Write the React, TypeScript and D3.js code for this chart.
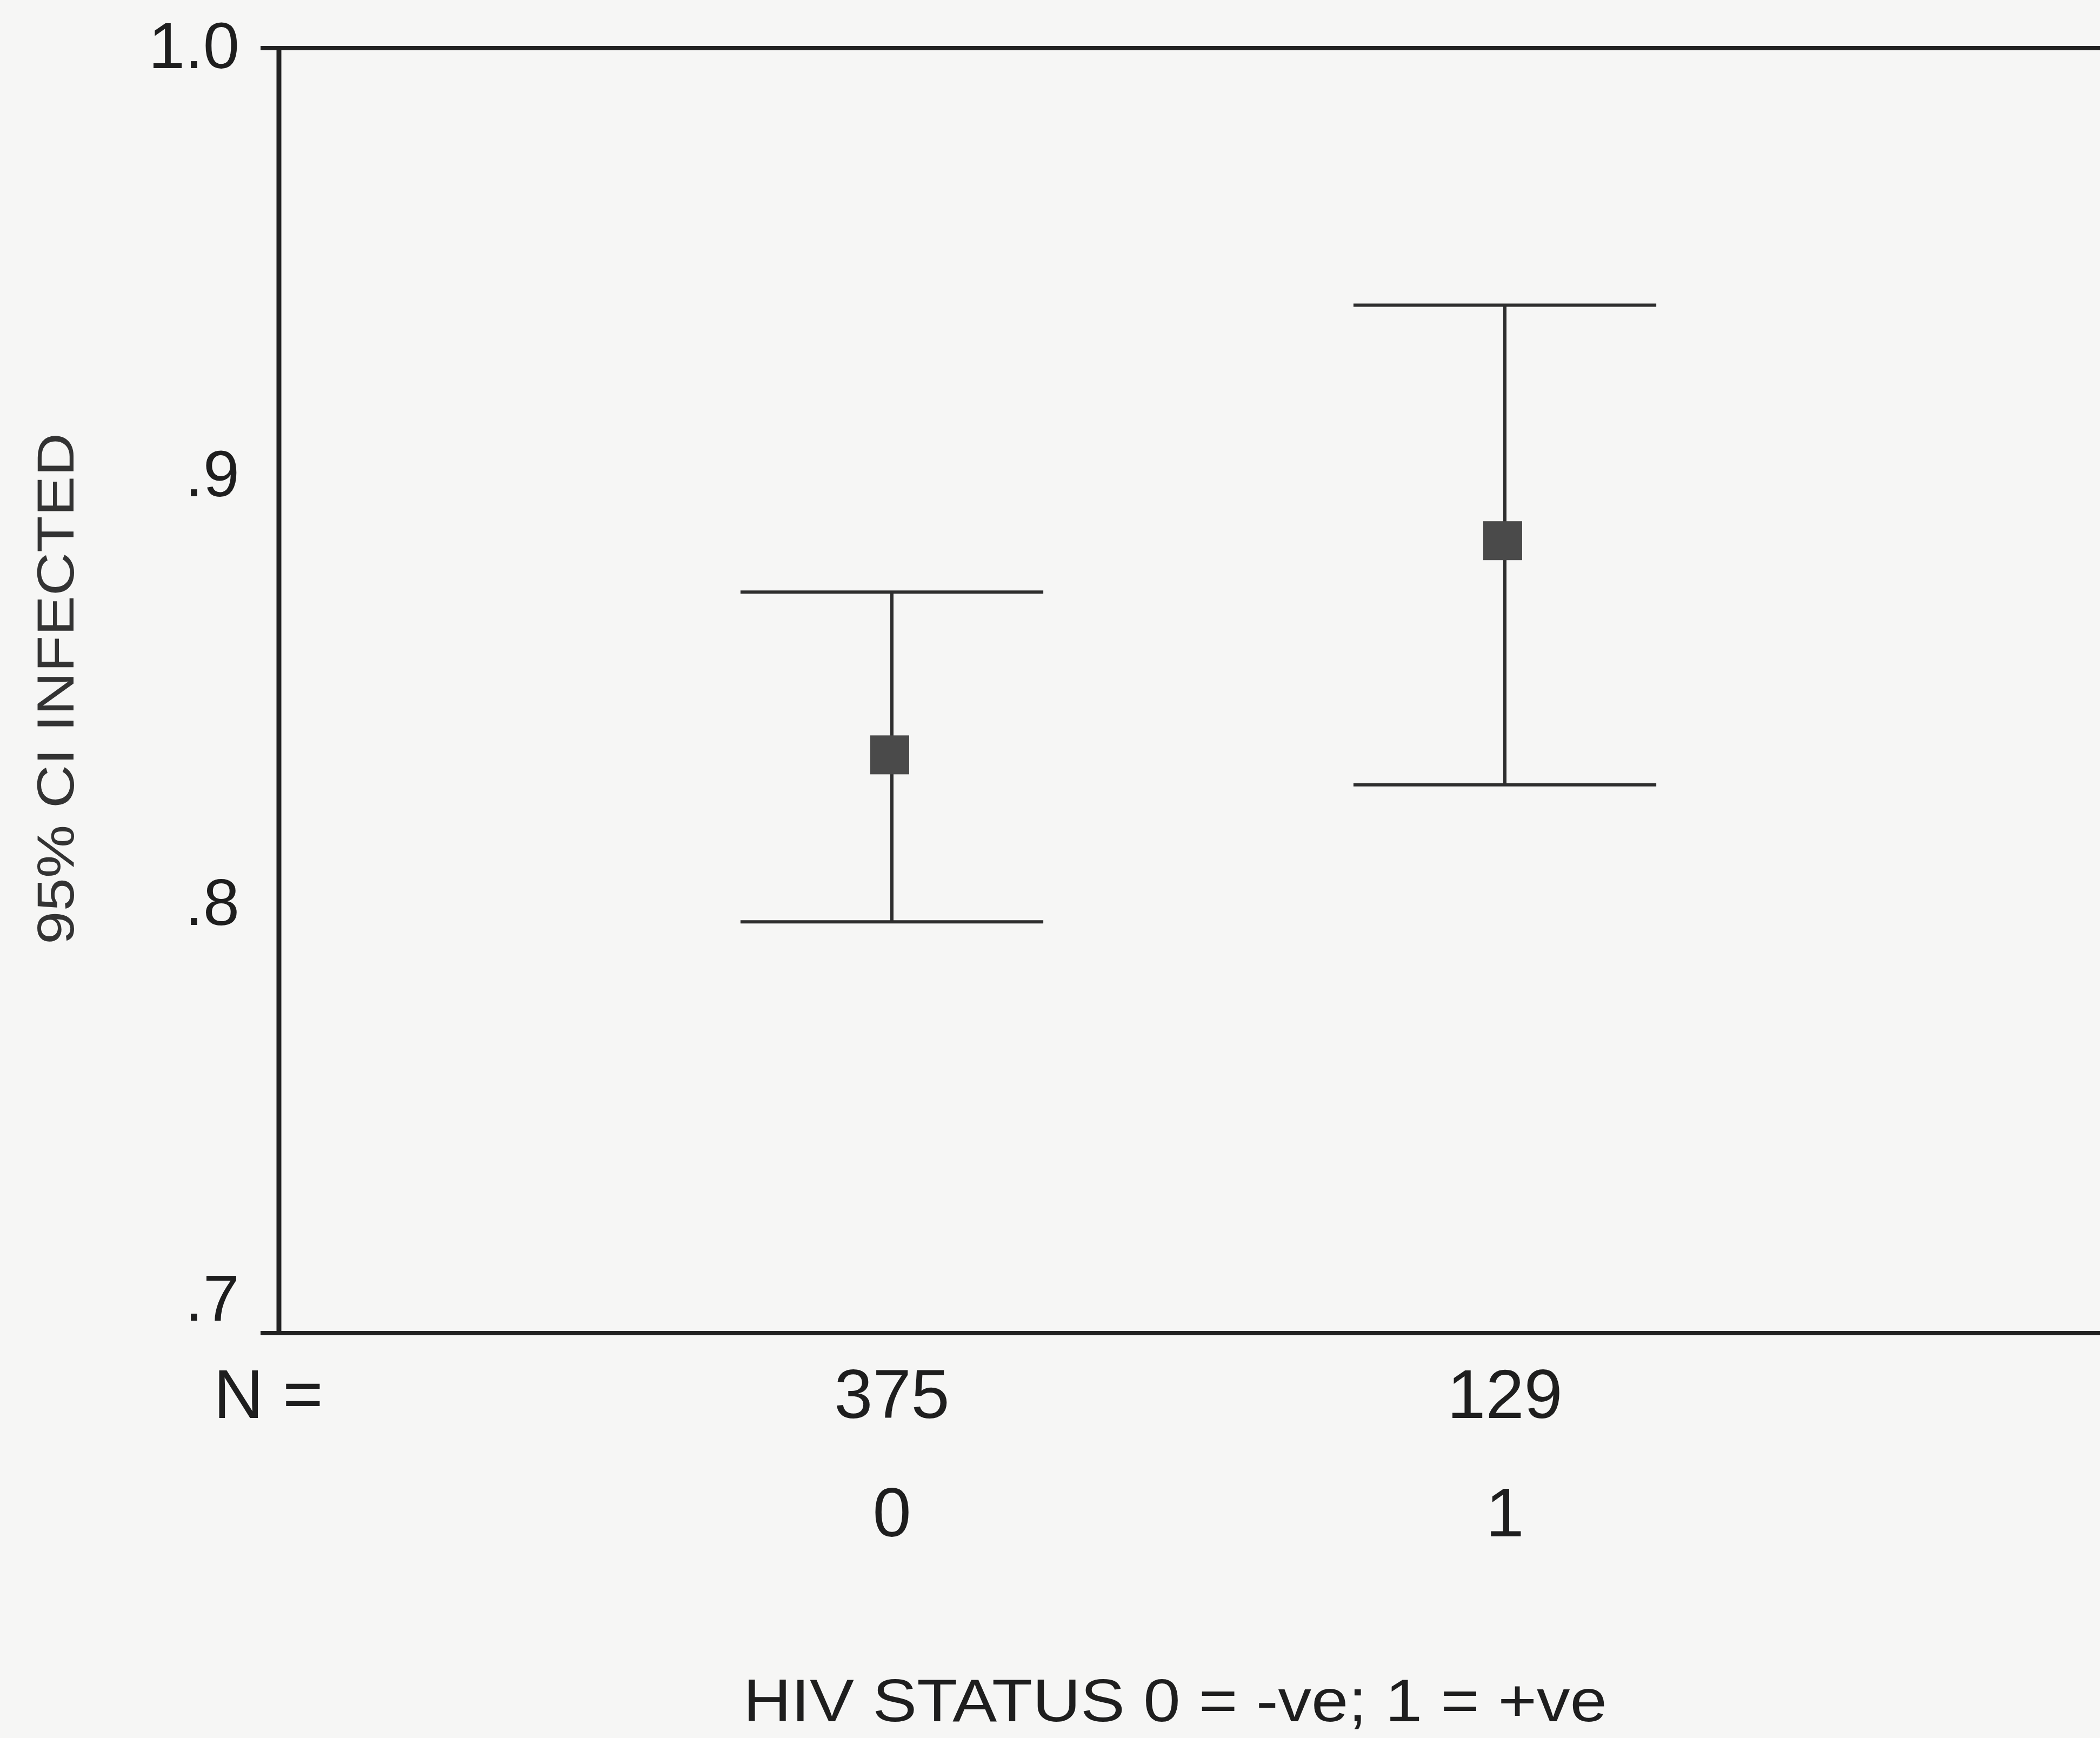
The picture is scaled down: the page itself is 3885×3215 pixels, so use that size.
import React from "react";
import * as d3 from "d3";

const categories = ["0", "1"];
const counts = [375, 129];
const means = [0.835, 0.885];
const lowerCI = [0.796, 0.828];
const upperCI = [0.873, 0.94];
const yTicks = [1.0, 0.9, 0.8, 0.7];
const yTickLabels = ["1.0", ".9", ".8", ".7"];

const W = 3885;
const H = 3215;
const FONT = "'Liberation Sans', Arial, Helvetica, sans-serif";

export default function App() {
  const x = d3.scaleLinear().domain([-1, categories.length]).range([516, 3918]);
  const y = d3.scaleLinear().domain([0.7, 1.0]).range([2466, 89]);
  const capHalf = (x(1) - x(0)) * 0.247;
  const marker = 72;
  const axisColor = "#222";
  const barColor = "#2e2e2e";
  const [yMin, yMax] = y.domain();

  return (
    <svg
      width={W}
      height={H}
      viewBox={`0 0 ${W} ${H}`}
      style={{ position: "absolute", left: 0, top: 0, display: "block" }}
    >
      <rect x={0} y={0} width={W} height={H} fill="#f6f6f5" />

      {/* frame: top line, left axis, bottom axis */}
      <line x1={482} x2={W} y1={y(yMax)} y2={y(yMax)} stroke={axisColor} strokeWidth={8} />
      <line x1={482} x2={W} y1={y(yMin)} y2={y(yMin)} stroke={axisColor} strokeWidth={8} />
      <line x1={x(-1)} x2={x(-1)} y1={y(yMax) - 4} y2={y(yMin) + 4} stroke={axisColor} strokeWidth={9} />

      {/* y tick labels */}
      {yTicks.map((t, i) => (
        <text
          key={"yt" + i}
          x={443}
          y={t === yMin ? y(t) - 23 : y(t) + 37}
          textAnchor="end"
          fontFamily={FONT}
          fontSize={121}
          fill="#1e1e1e"
        >
          {yTickLabels[i]}
        </text>
      ))}

      {/* error bars */}
      {categories.map((c, i) => {
        const cx = x(i);
        return (
          <g key={"eb" + c}>
            <line x1={cx} x2={cx} y1={y(upperCI[i])} y2={y(lowerCI[i])} stroke={barColor} strokeWidth={6} />
            <line x1={cx - capHalf} x2={cx + capHalf} y1={y(upperCI[i])} y2={y(upperCI[i])} stroke={barColor} strokeWidth={6} />
            <line x1={cx - capHalf} x2={cx + capHalf} y1={y(lowerCI[i])} y2={y(lowerCI[i])} stroke={barColor} strokeWidth={6} />
            <rect
              x={cx - marker / 2 - 4}
              y={y(means[i]) - marker / 2}
              width={marker}
              height={marker}
              fill="#4a4a4a"
            />
          </g>
        );
      })}

      {/* N = row */}
      <text x={395} y={2623} fontFamily={FONT} fontSize={128} fill="#1e1e1e">
        N =
      </text>
      {categories.map((c, i) => (
        <text
          key={"n" + c}
          x={x(i)}
          y={2623}
          textAnchor="middle"
          fontFamily={FONT}
          fontSize={128}
          fill="#1e1e1e"
        >
          {counts[i]}
        </text>
      ))}

      {/* category labels */}
      {categories.map((c, i) => (
        <text
          key={"c" + c}
          x={x(i)}
          y={2842}
          textAnchor="middle"
          fontFamily={FONT}
          fontSize={128}
          fill="#1e1e1e"
        >
          {c}
        </text>
      ))}

      {/* x axis title */}
      <text
        x={2174}
        y={3184}
        textAnchor="middle"
        fontFamily={FONT}
        fontSize={112}
        fill="#1e1e1e"
        textLength={1598}
        lengthAdjust="spacingAndGlyphs"
      >
        HIV STATUS 0 = -ve; 1 = +ve
      </text>

      {/* y axis title */}
      <text
        transform={`translate(136, 1274) rotate(-90)`}
        x={0}
        y={0}
        textAnchor="middle"
        fontFamily={FONT}
        fontSize={97}
        fill="#333"
        textLength={946}
        lengthAdjust="spacingAndGlyphs"
      >
        95% CI INFECTED
      </text>
    </svg>
  );
}
